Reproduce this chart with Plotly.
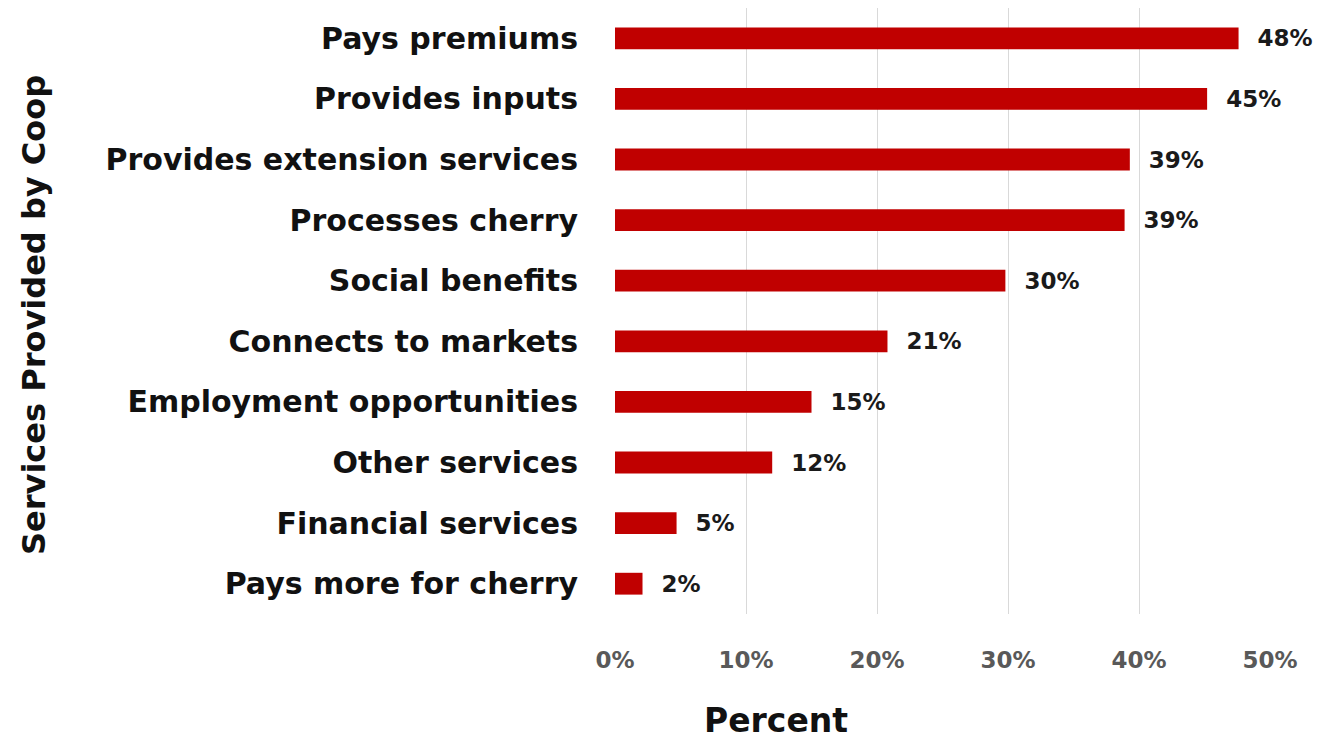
import plotly.graph_objects as go

categories = ["Pays premiums", "Provides inputs", "Provides extension services",
              "Processes cherry", "Social benefits", "Connects to markets",
              "Employment opportunities", "Other services", "Financial services",
              "Pays more for cherry"]
values = [0.476, 0.452, 0.393, 0.389, 0.298, 0.208, 0.150, 0.120, 0.047, 0.021]
labels = ["48%", "45%", "39%", "39%", "30%", "21%", "15%", "12%", "5%", "2%"]
tick_vals = [0, 0.1, 0.2, 0.3, 0.4, 0.5]
tick_text = ["0%", "10%", "20%", "30%", "40%", "50%"]

FONT = "DejaVu Sans"
L, R, T, B = 615, 49, 8, 127
W, H = 1319, 741
pw = W - L - R

fig = go.Figure(go.Bar(
    y=categories, x=values, orientation="h",
    marker=dict(color="#C00000", line=dict(width=0)),
    text=["\u00a0\u00a0" + s for s in labels], textposition="outside",
    constraintext="none",
    textfont=dict(family=FONT, size=23, color="#1a1a1a", weight="bold"),
    cliponaxis=False, width=0.36,
))

fig.update_layout(
    width=W, height=H,
    margin=dict(l=L, r=R, t=T, b=B),
    paper_bgcolor="white", plot_bgcolor="white",
    showlegend=False,
    xaxis=dict(range=[0, 0.5], tickvals=tick_vals, ticktext=tick_text,
               showgrid=True, gridcolor="#D9D9D9", gridwidth=1,
               zeroline=False, showline=False,
               tickfont=dict(family=FONT, size=23, color="#595959", weight="bold"),
               ticklabelstandoff=30),
    yaxis=dict(autorange="reversed", showgrid=False, zeroline=False, showline=False,
               tickfont=dict(family=FONT, size=30, color="#111111", weight="bold"),
               ticklabelstandoff=36),
    bargap=0.64,
)

fig.add_annotation(text="Percent", xref="paper", yref="paper",
                   x=(776 - L) / pw, y=(H - 720 - B) / (H - T - B),
                   showarrow=False, xanchor="center", yanchor="middle",
                   font=dict(family=FONT, size=33, color="#111111", weight="bold"))
fig.add_annotation(text="Services Provided by Coop", xref="paper", yref="paper",
                   x=(34 - L) / pw, y=(H - 315 - B) / (H - T - B),
                   showarrow=False, textangle=-90, xanchor="center", yanchor="middle",
                   font=dict(family=FONT, size=32, color="#111111", weight="bold"))

fig.write_html("out.html")
